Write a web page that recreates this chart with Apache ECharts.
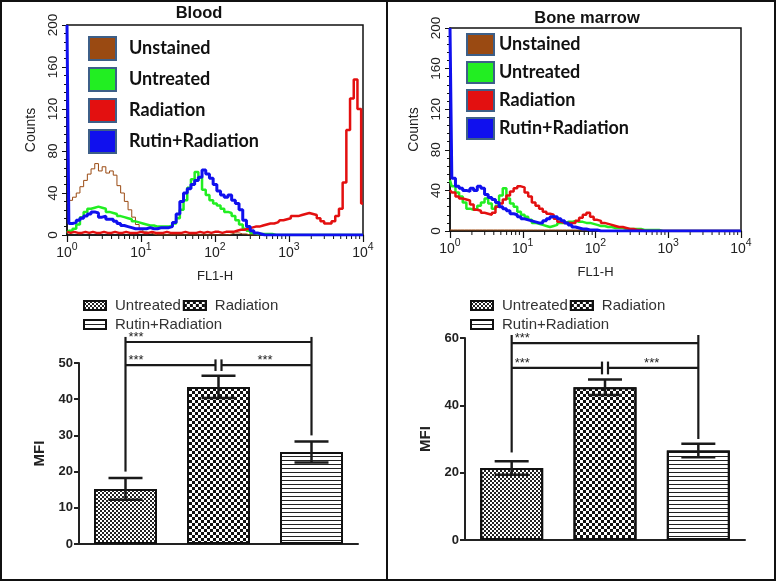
<!DOCTYPE html>
<html><head><meta charset="utf-8">
<script src="https://cdn.jsdelivr.net/npm/echarts@6/dist/echarts.min.js"></script>
<style>
html,body{margin:0;padding:0;background:#fff;width:777px;height:584px;overflow:hidden;}
#frame{position:absolute;left:0;top:0;width:772px;height:577px;border:2px solid #111;}
#divider{position:absolute;left:386px;top:0;width:2px;height:581px;background:#111;}
.p{position:absolute;}
</style></head><body>
<div id="frame"></div>
<div id="divider"></div>
<div class="p" id="cA" style="left:0;top:0;width:386px;height:280px"></div>
<div class="p" id="cB" style="left:388px;top:0;width:387px;height:280px"></div>
<div class="p" id="cC" style="left:0;top:280px;width:386px;height:300px"></div>
<div class="p" id="cD" style="left:388px;top:280px;width:387px;height:300px"></div>
<script>
// ---------- DATA ----------
// histogram channels: log10(FL1-H)
const channelExp = [0,0.05,0.1,0.15,0.2,0.25,0.3,0.35,0.4,0.45,0.5,0.55,0.6,0.65,0.7,0.75,0.8,0.85,0.9,0.95,
1,1.05,1.1,1.15,1.2,1.25,1.3,1.35,1.4,1.45,1.5,1.55,1.6,1.65,1.7,1.75,1.8,1.85,1.9,1.95,
2,2.05,2.1,2.15,2.2,2.25,2.3,2.35,2.4,2.45,2.5,2.55,2.6,2.65,2.7,2.75,2.8,2.85,2.9,2.95,
3,3.05,3.1,3.15,3.2,3.25,3.3,3.35,3.4,3.45,3.5,3.55,3.6,3.65,3.7,3.75,3.8,3.85,3.9,3.95,4];
const histNames = ['Unstained','Untreated','Radiation','Rutin+Radiation'];

const bloodUnstained = [30,33,36,40,46,52,58,63,68,61,65,59,61,57,47,40,32,24,17,10,
5,3,2,1,0,0,0,0,0,0,0,0,0,0,0,0,0,0,0,0,
0,0,0,0,1,2,2,1,1,0,0,0,0,0,0,0,0,0,0,0,
0,0,0,0,0,0,0,0,0,0,0,0,0,0,0,0,0,0,0,0,0];
const bloodUntreated = [2,4,6,10,17,22,25,26,27,26,25,22,21,20,18,17,16,15,13,12,
11,10,9,9,8,8,8,8,9,11,16,24,33,45,53,60,55,43,38,33,
30,28,25,22,21,18,14,10,6,4,2,1,1,1,1,1,0,0,0,0,
0,0,0,0,0,0,0,0,0,0,0,0,0,0,0,0,0,0,0,0,0];
const bloodRadiation = [3,2,3,2,2,3,2,3,2,2,3,2,2,3,2,2,3,2,2,2,
3,2,2,3,2,2,2,3,2,2,2,2,3,2,2,2,3,2,3,2,
3,3,2,3,3,3,4,5,5,6,7,8,8,9,10,11,11,12,14,15,
16,18,18,19,20,21,20,19,16,13,11,11,13,18,25,50,100,130,148,120,30];
const bloodRutin = [200,11,12,14,16,18,20,22,21,17,18,15,15,13,11,9,8,7,6,6,
6,6,7,6,6,7,7,7,8,12,20,32,40,44,48,52,55,62,58,54,
48,42,38,36,38,33,30,24,14,8,4,2,1,0,0,0,0,0,0,0,
0,0,0,0,0,0,0,0,0,0,0,0,0,0,0,0,0,0,0,0,0];

const marrowUnstained = [1,1,1,1,1,1,1,1,1,1,1,1,1,1,1,1,1,1,1,1,
1,1,1,1,1,1,1,1,1,1,1,1,1,1,1,1,1,1,1,1,
1,0,0,0,0,0,0,0,0,0,0,0,0,0,0,0,0,0,0,0,
0,0,0,0,0,0,0,0,0,0,0,0,0,0,0,0,0,0,0,0,0];
const marrowUntreated = [50,44,38,34,28,22,21,22,25,28,32,27,22,25,35,42,32,27,24,19,
16,14,11,8,7,6,5,4,5,6,8,8,9,9,10,9,9,8,8,7,
6,5,5,4,4,3,3,3,2,2,2,2,2,1,1,1,1,1,0,0,
0,0,0,0,0,0,0,0,0,0,0,0,0,0,0,0,0,0,0,0,0];
const marrowRadiation = [40,38,34,32,31,30,26,21,20,18,17,16,18,24,27,31,35,39,42,44,
43,38,34,28,25,22,19,17,16,12,9,8,8,8,8,10,13,16,18,14,
11,10,8,7,6,5,4,4,3,2,2,1,1,0,0,0,0,0,0,0,
0,0,0,0,0,0,0,0,0,0,0,0,0,0,0,0,0,0,0,0,0];
const marrowRutin = [200,52,44,42,40,39,42,40,44,42,36,33,31,28,24,22,20,17,16,14,
12,11,10,9,8,8,10,12,14,14,12,10,8,6,4,3,2,2,1,1,
1,0,0,0,0,0,0,0,0,0,0,0,0,0,0,0,0,0,0,0,
0,0,0,0,0,0,0,0,0,0,0,0,0,0,0,0,0,0,0,0,0];

// MFI bar charts
const barGroups = ['Untreated','Radiation','Rutin+Radiation'];
const bloodMFI = [15.2, 43.4, 25.4];
const bloodSEM = [3.0, 3.1, 2.9];
const marrowMFI = [21.4, 45.4, 26.6];
const marrowSEM = [2.0, 2.3, 2.0];
// significance brackets: [upper line, lower line], vertical top, vertical drops [left, right]
const bloodBracketLevels = [55.8, 49.4];
const bloodBracketTop = 57.2;
const bloodBracketDrops = [20, 30];
const marrowBracketLevels = [58.5, 51.1];
const marrowBracketTop = 60.9;
const marrowBracketDrops = [26, 30];
const sigLabels = ['***','***','***'];

// ---------- STYLE ----------
const histColors = ['#9a4a12','#22ee22','#e31010','#1010ee'];
const histWidths = [1, 2.5, 2.5, 3];
const AX = '#111';
const FONT = '"Liberation Sans", Arial, sans-serif';

function histOption(o) {
  const sets = o.sets;
  const minorTicks = [];
  for (let k = 0; k < 4; k++) for (let m = 2; m <= 9; m++) minorTicks.push([m * Math.pow(10, k), 0]);
  const series = sets.map((vals, si) => ({
    type: 'line', name: histNames[si], step: 'middle', showSymbol: false, silent: true,
    data: channelExp.map((e, i) => [Math.pow(10, e), vals[i]]),
    lineStyle: {color: histColors[si], width: histWidths[si]},
    itemStyle: {color: histColors[si]}, z: 3 + si
  }));
  series.push({
    type: 'custom', silent: true, clip: false, z: 2, data: minorTicks,
    renderItem: (params, api) => {
      const p = api.coord([api.value(0), 0]);
      return {type: 'line', shape: {x1: p[0], y1: p[1], x2: p[0], y2: p[1] + 4}, style: {stroke: AX, lineWidth: 1}};
    }
  });
  return {
    animation: false,
    textStyle: {fontFamily: FONT},
    title: {text: o.title, left: o.titleX, top: o.titleY, textAlign: 'center', padding: 0,
      textStyle: {fontFamily: FONT, fontWeight: 'bold', fontSize: 16.5, color: '#111'}},
    grid: {left: o.grid[0], top: o.grid[1], width: o.grid[2], height: o.grid[3], outerBoundsMode: 'none', containLabel: false,
      show: true, borderColor: AX, borderWidth: 1.5},
    legend: {orient: 'vertical', left: o.leg[0], top: o.leg[1], padding: 0, itemWidth: 27, itemHeight: o.leg[2], itemGap: o.leg[3],
      icon: 'rect', selectedMode: false, data: histNames,
      itemStyle: {borderColor: '#3d5f88', borderWidth: 2},
      textStyle: {fontFamily: 'Lato, "Open Sans", sans-serif', fontWeight: 'bold', fontSize: 18, color: '#111', padding: [0, 0, 0, o.leg[4]]}},
    xAxis: {type: 'log', logBase: 10, min: 1, max: 10000,
      axisLine: {lineStyle: {color: AX, width: 1.5}},
      axisTick: {length: 7, lineStyle: {color: AX, width: 1.2}},
      splitLine: {show: false},
      axisLabel: {margin: 7, color: '#222',
        formatter: v => '{b|10}{s|' + Math.round(Math.log10(v)) + '}',
        rich: {b: {fontSize: 14, fontFamily: FONT, color: '#222', verticalAlign: 'bottom', lineHeight: 18},
               s: {fontSize: 10.5, fontFamily: FONT, color: '#222', verticalAlign: 'top', lineHeight: 18, padding: [0, 0, 7, 0]}}},
      name: 'FL1-H', nameLocation: 'middle', nameGap: 35,
      nameTextStyle: {fontFamily: FONT, fontSize: 13, color: '#222'}},
    yAxis: {type: 'value', min: 0, max: 200, interval: 40,
      axisLine: {show: true, lineStyle: {color: AX, width: 1.5}},
      axisTick: {show: true, length: 5, lineStyle: {color: AX}},
      minorTick: {show: true, splitNumber: 5, length: 3, lineStyle: {color: AX}},
      splitLine: {show: false},
      axisLabel: {rotate: 90, margin: 7, fontSize: 13.5, color: '#222', fontFamily: FONT},
      name: 'Counts', nameLocation: 'middle', nameGap: 28,
      nameTextStyle: {fontFamily: FONT, fontSize: 14, color: '#222'}},
    series
  };
}

function barOption(o) {
  const mfi = o.mfi, sem = o.sem;
  const decals = [
    {symbol: 'rect', symbolSize: 1, color: '#222', dashArrayX: [[2, 2], [0, 2, 2, 0]], dashArrayY: [2, 0]},
    {symbol: 'rect', symbolSize: 1, color: '#111', dashArrayX: [[3, 3], [0, 3, 3, 0]], dashArrayY: [3, 0]},
    {symbol: 'rect', symbolSize: 1, color: '#222', dashArrayX: [1, 0], dashArrayY: [1, 3]}
  ];
  const series = barGroups.map((g, i) => ({
    type: 'bar', name: g, barWidth: 63, barGap: '-100%', silent: true,
    data: barGroups.map((_, j) => (j === i ? mfi[i] : '-')),
    itemStyle: {color: '#fff', borderColor: '#111', borderWidth: 2, decal: decals[i]}, z: 2
  }));
  const line = (x1, y1, x2, y2, w) => ({type: 'line', shape: {x1, y1, x2, y2}, style: {stroke: '#1a1a1a', lineWidth: w || 2.2}});
  series.push({
    type: 'custom', silent: true, clip: false, z: 5,
    data: mfi.map((v, i) => [i, v - sem[i], v + sem[i]]),
    renderItem: (params, api) => {
      const c = api.value(0);
      const pH = api.coord([c, api.value(2)]), pL = api.coord([c, api.value(1)]);
      const hw = 17;
      return {type: 'group', children: [
        line(pH[0], pH[1], pL[0], pL[1], 2.5),
        line(pH[0] - hw, pH[1], pH[0] + hw, pH[1], 2.5),
        line(pL[0] - hw, pL[1], pL[0] + hw, pL[1], 2.5)]};
    }
  });
  series.push({
    type: 'custom', silent: true, clip: false, z: 5, data: [[0, 0]],
    renderItem: (params, api) => {
      const lv = o.levels, drops = o.drops;
      const a0 = api.coord([0, o.top]), aL = api.coord([0, drops[0]]);
      const c0 = api.coord([2, o.top]), cR = api.coord([2, drops[1]]);
      const u = api.coord([0, lv[0]]), u2 = api.coord([2, lv[0]]);
      const s = api.coord([0, lv[1]]), s2 = api.coord([2, lv[1]]);
      const mid = api.coord([1, lv[1]]);
      const bt = api.coord([1, lv[1] + o.brk]), bb = api.coord([1, lv[1] - o.brk]);
      const txt = (x, y, t, align) => ({type: 'text', style: {x, y, text: t, fill: '#222', font: '13px ' + FONT, textAlign: align, textVerticalAlign: 'bottom'}});
      return {type: 'group', children: [
        line(a0[0], a0[1], aL[0], aL[1]),
        line(c0[0], c0[1], cR[0], cR[1]),
        line(u[0], u[1], u2[0], u2[1]),
        line(s[0], s[1], mid[0] - 3, mid[1]),
        line(mid[0] + 3, mid[1], s2[0], s2[1]),
        line(mid[0] - 3, bt[1], mid[0] - 3, bb[1]),
        line(mid[0] + 3, bt[1], mid[0] + 3, bb[1]),
        txt(u[0] + 3, u[1] + 2, sigLabels[0], 'left'),
        txt(s[0] + 3, s[1] + 2, sigLabels[1], 'left'),
        txt((mid[0] + s2[0]) / 2, s[1] + 2, sigLabels[2], 'center')
      ]};
    }
  });
  const legText = {fontFamily: FONT, fontSize: 15, color: '#333', padding: [0, 0, 0, 4]};
  const legItem = {borderColor: '#111', borderWidth: 2};
  return {
    animation: false,
    textStyle: {fontFamily: FONT},
    legend: [
      {left: o.leg[0], top: o.leg[1], padding: 0, itemWidth: 22, itemHeight: 9, itemGap: 2, icon: 'rect', selectedMode: false,
       data: barGroups.slice(0, 2), textStyle: legText, itemStyle: legItem},
      {left: o.leg[0], top: o.leg[1] + 19, padding: 0, itemWidth: 22, itemHeight: 9, itemGap: 2, icon: 'rect', selectedMode: false,
       data: barGroups.slice(2), textStyle: legText, itemStyle: legItem}
    ],
    grid: {left: o.grid[0], top: o.grid[1], width: o.grid[2], height: o.grid[3], outerBoundsMode: 'none', containLabel: false},
    xAxis: {type: 'category', data: barGroups,
      axisLine: {lineStyle: {color: '#222', width: 2}},
      axisTick: {alignWithLabel: true, interval: i => i === 1, length: 6, lineStyle: {color: '#222', width: 2}},
      axisLabel: {show: false}},
    yAxis: {type: 'value', min: 0, max: o.max, interval: o.interval,
      axisLine: {show: true, lineStyle: {color: '#222', width: 2}},
      axisTick: {show: true, length: 5, lineStyle: {color: '#222', width: 2}},
      splitLine: {show: false},
      axisLabel: {margin: 6, fontSize: 13, fontWeight: 'bold', color: '#222', fontFamily: FONT},
      name: 'MFI', nameLocation: 'middle', nameGap: 24,
      nameTextStyle: {fontFamily: FONT, fontSize: 15, fontWeight: 'bold', color: '#222'}},
    series
  };
}

echarts.init(document.getElementById('cA')).setOption(histOption({
  title: 'Blood', titleX: 199, titleY: 5,
  grid: [67, 25, 296, 210],
  leg: [88, 36, 23, 6, 8],
  sets: [bloodUnstained, bloodUntreated, bloodRadiation, bloodRutin]
}));
echarts.init(document.getElementById('cB')).setOption(histOption({
  title: 'Bone marrow', titleX: 199, titleY: 10,
  grid: [62, 28, 291, 203],
  leg: [78, 33, 21, 5, 0],
  sets: [marrowUnstained, marrowUntreated, marrowRadiation, marrowRutin]
}));
echarts.init(document.getElementById('cC')).setOption(barOption({
  grid: [79, 83, 279, 181], max: 50, interval: 10,
  mfi: bloodMFI, sem: bloodSEM,
  levels: bloodBracketLevels, top: bloodBracketTop, drops: bloodBracketDrops, brk: 1.6,
  leg: [83, 18]
}));
echarts.init(document.getElementById('cD')).setOption(barOption({
  grid: [77, 58, 280, 202], max: 60, interval: 20,
  mfi: marrowMFI, sem: marrowSEM,
  levels: marrowBracketLevels, top: marrowBracketTop, drops: marrowBracketDrops, brk: 1.9,
  leg: [82, 18]
}));
</script>
</body></html>
